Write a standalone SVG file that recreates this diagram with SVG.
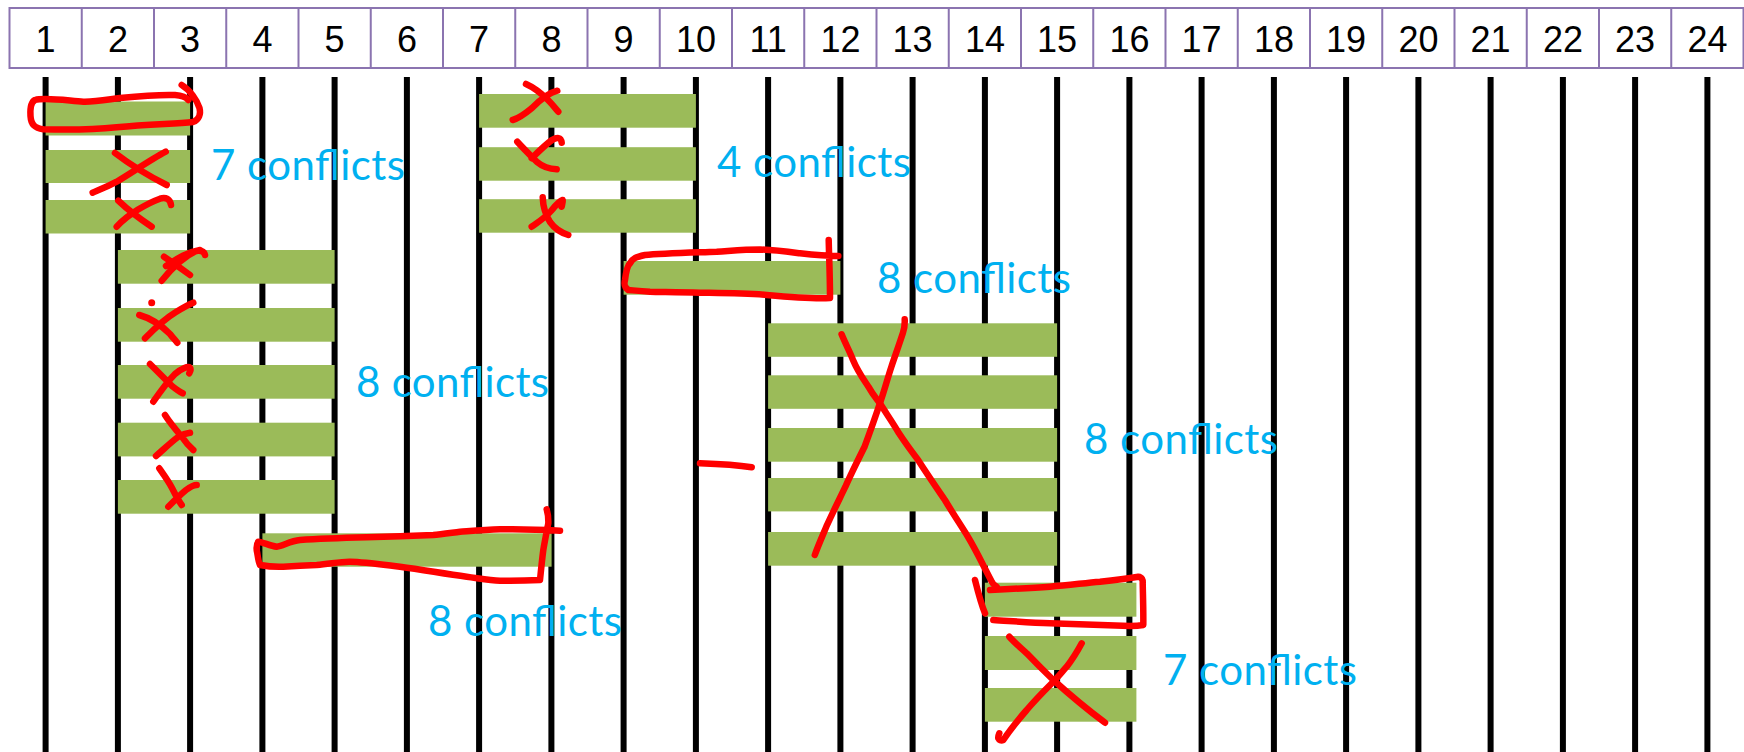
<svg xmlns="http://www.w3.org/2000/svg" width="1744" height="752" viewBox="0 0 1744 752">
<style>
.cell{fill:#fff;stroke:#8B74B0;stroke-width:2}
.num{font-family:"Liberation Sans",Arial,sans-serif;font-size:36px;fill:#000;text-anchor:middle}
.col{stroke:#000;stroke-width:6;fill:none}
.bar{fill:#9BBB59}
.lbl{font-family:Lato,"Liberation Sans",sans-serif;font-size:42px;fill:#00B0F0}
.ink{fill:none;stroke:#FF0000;stroke-width:6.5;stroke-linecap:round;stroke-linejoin:round}
</style>
<rect width="1744" height="752" fill="#fff"/>
<g id="header">
<rect class="cell" x="9.5" y="8" width="1734" height="60"/>
<path class="cell" d="M81.75,8V68M154,8V68M226.25,8V68M298.5,8V68M370.75,8V68M443,8V68M515.25,8V68M587.5,8V68M659.75,8V68M732,8V68M804.25,8V68M876.5,8V68M948.75,8V68M1021,8V68M1093.25,8V68M1165.5,8V68M1237.75,8V68M1310,8V68M1382.25,8V68M1454.5,8V68M1526.75,8V68M1599,8V68M1671.25,8V68"/>
<text class="num" x="45.6" y="52">1</text>
<text class="num" x="117.9" y="52">2</text>
<text class="num" x="190.1" y="52">3</text>
<text class="num" x="262.4" y="52">4</text>
<text class="num" x="334.6" y="52">5</text>
<text class="num" x="406.9" y="52">6</text>
<text class="num" x="479.1" y="52">7</text>
<text class="num" x="551.4" y="52">8</text>
<text class="num" x="623.6" y="52">9</text>
<text class="num" x="695.9" y="52">10</text>
<text class="num" x="768.1" y="52">11</text>
<text class="num" x="840.4" y="52">12</text>
<text class="num" x="912.6" y="52">13</text>
<text class="num" x="984.9" y="52">14</text>
<text class="num" x="1057.1" y="52">15</text>
<text class="num" x="1129.4" y="52">16</text>
<text class="num" x="1201.6" y="52">17</text>
<text class="num" x="1273.9" y="52">18</text>
<text class="num" x="1346.1" y="52">19</text>
<text class="num" x="1418.4" y="52">20</text>
<text class="num" x="1490.6" y="52">21</text>
<text class="num" x="1562.9" y="52">22</text>
<text class="num" x="1635.1" y="52">23</text>
<text class="num" x="1707.4" y="52">24</text>
</g>
<g id="columns">
<path class="col" d="M45.6,77V752M117.9,77V752M190.1,77V752M262.4,77V752M334.6,77V752M406.9,77V752M479.1,77V752M551.4,77V752M623.6,77V752M695.9,77V752M768.1,77V752M840.4,77V752M912.6,77V752M984.9,77V752M1057.1,77V752M1129.4,77V752M1201.6,77V752M1273.9,77V752M1346.1,77V752M1418.4,77V752M1490.6,77V752M1562.9,77V752M1635.1,77V752M1707.4,77V752"/>
</g>
<g id="groupA">
<rect class="bar" x="45.6" y="101.5" width="144.5" height="34"/>
<rect class="bar" x="45.6" y="150" width="144.5" height="33"/>
<rect class="bar" x="45.6" y="200" width="144.5" height="33.5"/>
<text class="lbl" x="211" y="180" textLength="194" lengthAdjust="spacing">7 conflicts</text>
</g>
<g id="groupB">
<rect class="bar" x="117.9" y="250" width="216.7" height="33.7"/>
<rect class="bar" x="117.9" y="308" width="216.7" height="33.7"/>
<rect class="bar" x="117.9" y="365" width="216.7" height="33.7"/>
<rect class="bar" x="117.9" y="422.7" width="216.7" height="33.7"/>
<rect class="bar" x="117.9" y="480" width="216.7" height="33.7"/>
<text class="lbl" x="356" y="396.7" textLength="193" lengthAdjust="spacing">8 conflicts</text>
</g>
<g id="groupC">
<rect class="bar" x="479.1" y="94" width="216.8" height="33.7"/>
<rect class="bar" x="479.1" y="147.2" width="216.8" height="33.5"/>
<rect class="bar" x="479.1" y="199.2" width="216.8" height="33.5"/>
<text class="lbl" x="717" y="176.7" textLength="194" lengthAdjust="spacing">4 conflicts</text>
</g>
<g id="groupD">
<rect class="bar" x="623.6" y="261" width="216.8" height="33.7"/>
<text class="lbl" x="877" y="293" textLength="194" lengthAdjust="spacing">8 conflicts</text>
</g>
<g id="groupE">
<rect class="bar" x="768.1" y="323.3" width="289" height="33.5"/>
<rect class="bar" x="768.1" y="375.3" width="289" height="33.5"/>
<rect class="bar" x="768.1" y="428" width="289" height="33.7"/>
<rect class="bar" x="768.1" y="478" width="289" height="33.4"/>
<rect class="bar" x="768.1" y="532" width="289" height="33.7"/>
<text class="lbl" x="1084" y="454" textLength="194" lengthAdjust="spacing">8 conflicts</text>
</g>
<g id="groupF">
<rect class="bar" x="984.9" y="582.7" width="151.5" height="34"/>
<rect class="bar" x="984.9" y="636" width="151.5" height="34"/>
<rect class="bar" x="984.9" y="688" width="151.5" height="33.7"/>
<text class="lbl" x="1163" y="685" textLength="194" lengthAdjust="spacing">7 conflicts</text>
</g>
<g id="groupG">
<rect class="bar" x="262.4" y="533.3" width="289.2" height="33.4"/>
<text class="lbl" x="428" y="636" textLength="194" lengthAdjust="spacing">8 conflicts</text>
</g>
<g id="annotations">
<path class="ink" d="M181.7,85 C190,90 197,100 199.5,108 C201,114 199,120 193,122 C175,124 150,124 116.7,127.3 C100,129 70,130 43.3,129.3 C35,128 31,125 30.5,116 C30,108 31,102 35,100 C45,97 70,101 83.3,101.7 C95,102 105,100 120,98 C140,96 160,94.5 175,95 C182,95.5 186,97 188.3,100"/>
<path class="ink" d="M115,153 C128,163 145,174 166.7,185 M165.7,151.7 C150,160 130,174 116.7,181.7 C105,188 96,191 92.7,192.7"/>
<path class="ink" d="M118.3,200.7 C128,210 140,219 151.7,226.7 M116.7,226.7 C128,214 148,203 160,198.7 C166,197 170,199 171,205"/>
<path class="ink" d="M164,256.7 C172,262 182,269 190,275 M161.7,280.7 C172,268 185,256 196,251 C200,250 204,251 205,255 M166,266 C178,258 188,252 200,250"/>
<circle cx="151.7" cy="302.7" r="3.5" fill="#FF0000"/>
<path class="ink" d="M139.3,315 C150,318 162,326 170,334 C173,338 176,341 177.3,342.7 M145,338.3 C155,328 166,318 176,312 C184,307 190,304 193.3,302.7"/>
<path class="ink" d="M150,364 C158,372 166,380 172,386 C177,390 180,392 182.7,393.3 M153.3,401.7 C160,392 167,382 175,374 C182,368 188,366 190,367.7 C191,369 190,372 189.3,373.3"/>
<path class="ink" d="M165,415 C170,423 176,430 182,437 C186,443 190,447 193.3,450 M156,456 C163,450 170,443 178,437 C183,434 187,433 190,432.7"/>
<path class="ink" d="M159.3,468.3 C164,475 169,482 172,488 C175,494 178,500 181.7,505 M168.3,506.7 C175,500 181,494 186,490 C190,487 194,485 196.7,485"/>
<path class="ink" d="M526,84 C535,88 543,95 548,100 C553,105 556,109 558.3,111.7 M512.7,120 C520,118 526,113 532,108 C540,100 548,93 557.3,90.7"/>
<path class="ink" d="M517.3,141.7 C523,148 530,155 537,162 C543,167 550,169 556.7,169.3 M531.7,158.3 C538,152 545,145 552,140 C557,137 561,137 561.7,142.7"/>
<path class="ink" d="M542.7,197.3 C543,205 545,214 550,222 C555,229 562,233 568.3,235 M531.7,226.7 C538,222 545,218 551,211 C555,206 559,201 562.7,200 C563,202 562,205 561.7,206.7"/>
<path class="ink" d="M828.7,240 C829,255 830,275 830,298 C815,299 800,298 766.7,295 C745,293 720,293 700,292.7 C680,292 660,292 650,291.7 C638,291 630,290 628.3,290 C624,287 624,284 625,280 C626,272 628,265 630,263.3 C633,258 636,257 645,255 C660,253.5 680,253 716.7,251.7 C735,250.5 745,249.5 760,249.5 C775,250 790,252 800,253.3 C815,255 830,256 838.3,256"/>
<path class="ink" d="M560,530.7 C540,529.5 515,529 500,529.3 C485,529.7 470,531 460,531.7 C450,533 440,534.5 433.3,535 C410,536 390,536.5 366.7,537.3 C340,538 315,539 300,540 C290,541 283,546 276.7,546.7 C270,546 263,542 258.3,541.7 C256,545 256.5,550 257.3,553.3 C258,558 258.5,562 260,565 C268,566.5 276,567 283.3,566.7 C295,566 305,565.5 316.7,565 C330,564 340,561.5 350,561.7 C365,562 382,564.5 400,566.7 C425,570 445,574 466.7,576.7 C480,578.5 490,580.5 500,580.7 C515,581 530,580.5 540,580 C541,570 542,560 543.3,550 C545,540 547,530 548.3,523.3 C548.5,517 547.5,512 546.7,509.3"/>
<path class="ink" d="M841.6,334.3 C846,345 850,352 853,360 C858,372 864,380 868.4,386.7 C873,395 876,398 879.9,403.3 C886,413 893,423 899,433.3 C906,444 912,452 918.1,460 C927,474 936,487 944.9,500 C952,512 960,524 967.9,536.7 C976,550 983,565 990.9,580 C992,583 994,585 996.6,586.7"/>
<path class="ink" d="M904.7,319.3 C905,325 904,330 902.8,333.3 C899,345 895,356 891.4,366.7 C887,380 884,392 879.9,403.3 C875,418 870,432 864.6,446.7 C858,460 851,474 845.4,486.7 C839,500 832,514 826.3,526.7 C822,537 818,546 814.8,555"/>
<path class="ink" d="M700,463.3 C720,464 740,465.5 751.7,467.3"/>
<path class="ink" d="M990,590 C1010,589 1030,588 1050,586.7 C1070,585 1085,583 1100,581.7 C1115,580 1130,578 1138.3,576.7 C1142,577 1143,580 1142.7,583.3 C1143,597 1143.5,612 1143.3,625 C1138,626 1134,626 1130,626 C1100,625 1075,624 1050,623.3 C1030,622.5 1010,621 993.3,620 M975,580 C978,592 981,604 985,613.3"/>
<path class="ink" d="M1009.3,636.7 C1015,643 1021,648 1026.7,653.3 C1035,662 1044,671 1053.3,680 C1070,695 1088,710 1105,722.7 M1081.7,643.3 C1077,652 1072,660 1066.7,666.7 C1062,672 1058,677 1053.3,681.7 C1044,691 1035,700 1026.7,710 C1018,720 1010,730 1003.3,740 C1001,741 999,740 998.3,738.3 C998,736 999,734 999.3,733.3"/>
</g>
</svg>
